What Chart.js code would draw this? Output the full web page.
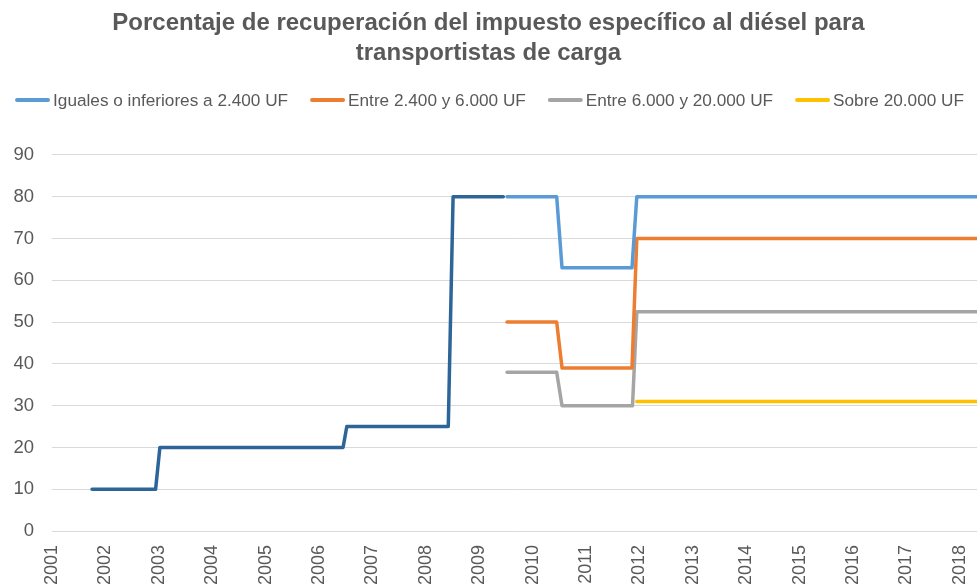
<!DOCTYPE html>
<html>
<head>
<meta charset="utf-8">
<script src="https://cdn.jsdelivr.net/npm/chart.js@4.4.1/dist/chart.umd.min.js"></script>
<style>
  html, body { margin: 0; padding: 0; background: #fff; overflow: hidden; }
  #wrap { width: 977px; height: 586px; position: relative; }
</style>
</head>
<body>
<div id="wrap"><canvas id="c" width="977" height="586"></canvas></div>
<script>
// ---- Data (x = decimal year, y = % recuperación) ----
const titleLines = ["Porcentaje de recuperación del impuesto específico al diésel para", "transportistas de carga"];
const seriesNames = ["Iguales o inferiores a 2.400 UF", "Entre 2.400 y 6.000 UF", "Entre 6.000 y 20.000 UF", "Sobre 20.000 UF"];

const histX = [2001.75, 2002.94, 2003.02, 2006.45, 2006.52, 2008.42, 2008.51, 2009.45];
const histY = [10, 10, 20, 20, 25, 25, 80, 80];

const smallX = [2009.52, 2010.45, 2010.55, 2011.86, 2011.95, 2018.4];
const smallY = [80, 80, 63, 63, 80, 80];

const midX = [2009.52, 2010.45, 2010.55, 2011.86, 2011.95, 2018.4];
const midY = [50, 50, 39, 39, 70, 70];

const largeX = [2009.52, 2010.45, 2010.55, 2011.87, 2011.95, 2018.4];
const largeY = [38, 38, 30, 30, 52.5, 52.5];

const xlX = [2011.95, 2018.4];
const xlY = [31, 31];

const yTicks = [0, 10, 20, 30, 40, 50, 60, 70, 80, 90];
const xFirstYear = 2001, xLastYear = 2018;

const toPts = (xs, ys) => xs.map((x, i) => ({ x: x, y: ys[i] }));

const textColor = '#595959';
const FONT = "'Liberation Sans', Arial, sans-serif";

const ds = (label, xs, ys, color, hidden) => ({
  label: label, data: toPts(xs, ys), borderColor: color, backgroundColor: color,
  borderWidth: 3.5, pointRadius: 0, tension: 0, fill: false, hideInLegend: hidden,
  borderCapStyle: 'round', borderJoinStyle: 'round'
});

// Legend drawn in one row (Excel style: long line sample, small gap, text)
const rowLegend = {
  id: 'rowLegend',
  afterDraw(chart) {
    const ctx = chart.ctx;
    const items = chart.data.datasets.filter(d => !d.hideInLegend);
    const fontSize = 17.2, lineLen = 35, gapText = 3, gapItem = 22, cy = 100;
    ctx.save();
    ctx.font = fontSize + "px " + FONT;
    const widths = items.map(d => ctx.measureText(d.label).width);
    const total = widths.reduce((a, b) => a + b, 0) + items.length * (lineLen + gapText) + (items.length - 1) * gapItem;
    let x = (chart.width - total) / 2 + 1;
    ctx.textBaseline = 'middle';
    ctx.textAlign = 'left';
    items.forEach((d, i) => {
      ctx.strokeStyle = d.borderColor;
      ctx.lineWidth = 4;
      ctx.lineCap = 'round';
      ctx.beginPath();
      ctx.moveTo(x + 2, cy);
      ctx.lineTo(x + lineLen - 2, cy);
      ctx.stroke();
      x += lineLen + gapText;
      ctx.fillStyle = textColor;
      ctx.fillText(d.label, x, cy + 1);
      x += widths[i] + gapItem;
    });
    ctx.restore();
  }
};

new Chart(document.getElementById('c'), {
  type: 'line',
  data: {
    datasets: [
      ds('hist', histX, histY, '#2D6598', true),
      ds(seriesNames[0], smallX, smallY, '#5B9BD5', false),
      ds(seriesNames[1], midX, midY, '#ED7D31', false),
      ds(seriesNames[2], largeX, largeY, '#A5A5A5', false),
      ds(seriesNames[3], xlX, xlY, '#FFC000', false)
    ]
  },
  plugins: [rowLegend],
  options: {
    responsive: false,
    animation: false,
    layout: { padding: { left: 0, right: 0, top: 8, bottom: 0 } },
    plugins: {
      title: {
        display: true, text: titleLines, color: textColor,
        font: { family: FONT, size: 24, weight: 'bold', lineHeight: 1.27 },
        padding: { top: 0, bottom: 86 }
      },
      legend: { display: false },
      tooltip: { enabled: false }
    },
    scales: {
      x: {
        type: 'linear', min: xFirstYear, max: 2018.32,
        grid: { display: false, drawTicks: false },
        border: { display: false },
        afterFit: (s) => { s.height = 55; s.paddingLeft = 0; s.paddingRight = 0; },
        ticks: {
          stepSize: 1, includeBounds: false, autoSkip: false,
          minRotation: 90, maxRotation: 90, padding: 14,
          color: textColor, font: { family: FONT, size: 18 },
          callback: (v) => (Number.isInteger(v) && v >= xFirstYear && v <= xLastYear) ? String(v) : null
        }
      },
      y: {
        min: 0, max: 90,
        afterFit: (s) => { s.width = 52; },
        grid: { color: '#D9D9D9', lineWidth: 1, drawTicks: false },
        border: { display: false },
        afterBuildTicks: (s) => { s.ticks = yTicks.map(v => ({ value: v })); },
        ticks: { padding: 18, color: textColor, font: { family: FONT, size: 18.5 } }
      }
    }
  }
});
</script>
</body>
</html>
